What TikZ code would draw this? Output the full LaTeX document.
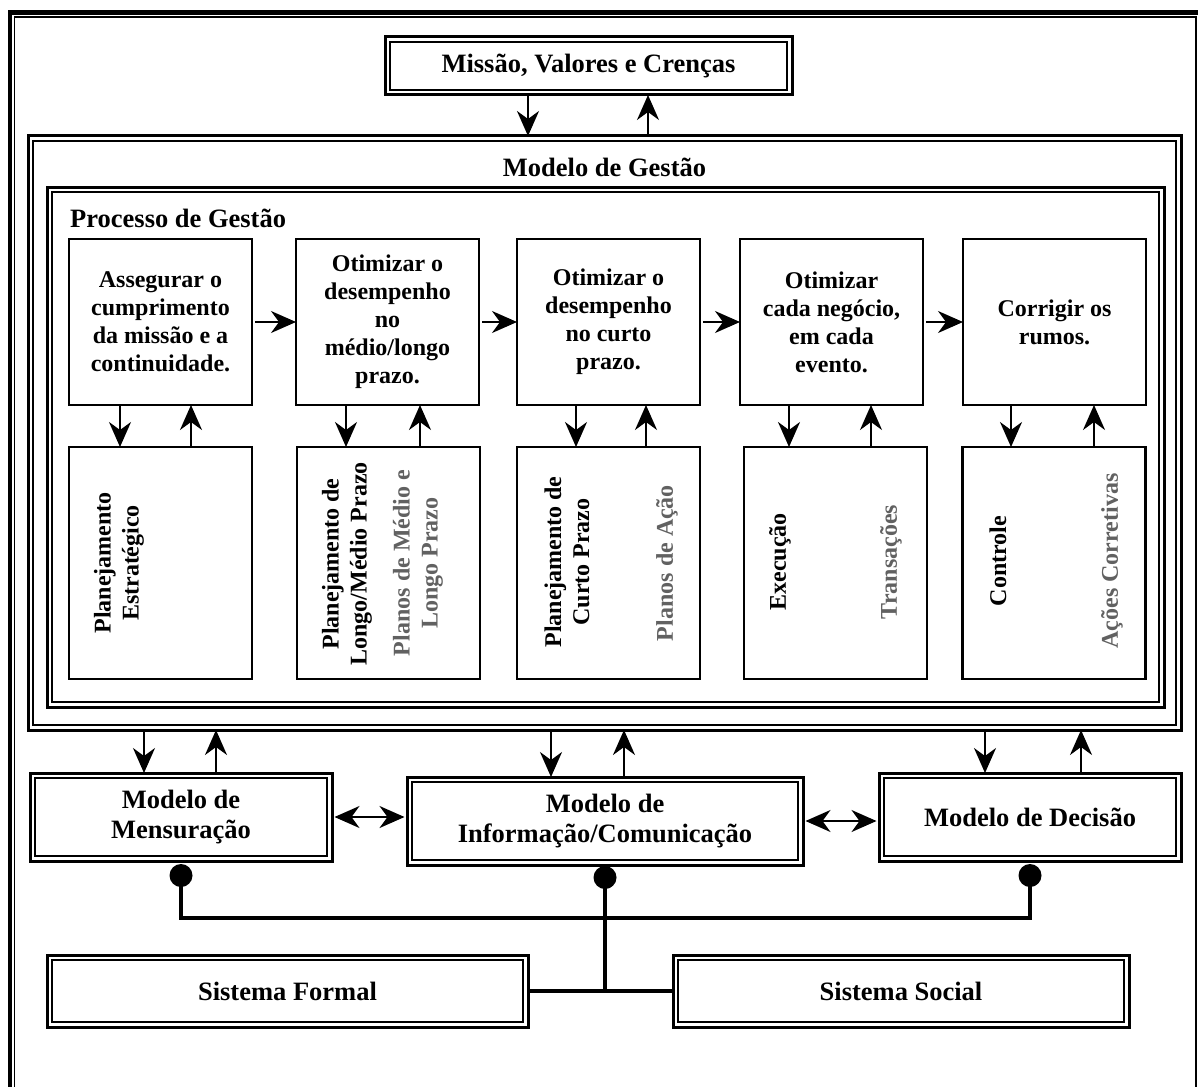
\documentclass[tikz,border=0pt]{standalone}
\usepackage{fontspec}
\setmainfont{Liberation Serif}
\usetikzlibrary{arrows.meta,positioning,calc}
\definecolor{planogray}{gray}{0.38}
\tikzset{
	box/.style={draw, line width=2.6pt, inner sep=0pt, outer sep=0pt, minimum width=183pt, align=center, font=\fontsize{24}{28}\selectfont\bfseries},
	dbox/.style={draw, line width=3pt, inner sep=0pt, outer sep=0pt, align=center, font=\fontsize{26.5}{30.5}\selectfont\bfseries},
	innerline/.style={line width=1.8pt},
	titletext/.style={inner sep=0pt, font=\fontsize{26.5}{30.5}\selectfont\bfseries},
	vtext/.style={rotate=90, inner sep=0pt, align=center, font=\fontsize{24}{28}\selectfont\bfseries},
	arr/.style={-{Stealth[length=25pt,width=22pt,inset=8pt]}, line width=1.8pt},
	darr/.style={{Stealth[length=25pt,width=22pt,inset=8pt]}-{Stealth[length=25pt,width=22pt,inset=8pt]}, line width=1.8pt},
	bus/.style={line width=4pt},
	ball/.style={circle, fill=black, inner sep=0pt, outer sep=0pt, minimum size=23pt}
}

\begin{document}
\begin{tikzpicture}[x=1pt, y=-1pt]
		%%%%% START %%%%%
		\useasboundingbox (0, 0) rectangle (1198, 1086);
		
		\draw[line width=4.5pt] (10, 12.5) rectangle (1210, 1100);
		\draw[line width=1.6pt] (14.3, 16.8) rectangle (1195.8, 1100);
		
		\node[dbox, minimum width=407pt, minimum height=58pt] (mvc) at (588.5, 66) {Missão, Valores e Crenças};
		
		\node[dbox, minimum width=1153pt, minimum height=594pt] (mg) at (604.5, 433) {};
		\node[titletext] (mgt) at (604.5, 167) {Modelo de Gestão};
		
		\node[dbox, minimum width=1117pt, minimum height=520pt] (pg) at (605.5, 447) {};
		\node[titletext, anchor=west] (pgt) at (70, 218) {Processo de Gestão};
		
		\node[box, minimum height=166pt] (a1) at (160.5, 322) {Assegurar o\\cumprimento\\da missão e a\\continuidade.};
		\node[box, minimum height=166pt] (a2) at (387.5, 322) {Otimizar o\\desempenho\\no\\médio/longo\\prazo.};
		\node[box, minimum height=166pt] (a3) at (608.5, 322) {Otimizar o\\desempenho\\no curto\\prazo.};
		\node[box, minimum height=166pt] (a4) at (831.5, 322) {Otimizar\\cada negócio,\\em cada\\evento.};
		\node[box, minimum height=166pt] (a5) at (1054.5, 322) {Corrigir os\\rumos.};
		
		\node[box, minimum height=232pt] (b1) at (160.5, 563) {};
		\node[box, minimum height=232pt] (b2) at (388.5, 563) {};
		\node[box, minimum height=232pt] (b3) at (608.5, 563) {};
		\node[box, minimum height=232pt] (b4) at (835.5, 563) {};
		\node[box, minimum height=232pt] (b5) at (1054, 563) {};
		
		\node[vtext] (t1) at (119, 563) {Planejamento\\Estratégico};
		\node[vtext] (t2) at (347, 564) {Planejamento de\\Longo/Médio Prazo};
		\node[vtext, text=planogray] (p2) at (418, 563) {Planos de Médio e\\Longo Prazo};
		\node[vtext] (t3) at (567, 562) {Planejamento de\\Curto Prazo};
		\node[vtext, text=planogray] (p3) at (667, 563) {Planos de Ação};
		\node[vtext] (t4) at (780, 562) {Execução};
		\node[vtext, text=planogray] (p4) at (891, 562) {Transações};
		\node[vtext] (t5) at (998, 561) {Controle};
		\node[vtext, text=planogray] (p5) at (1112, 561) {Ações Corretivas};
		
		\node[dbox, minimum width=302pt, minimum height=88pt] (mm) at (181, 817) {Modelo de\\Mensuração};
		\node[dbox, minimum width=396pt, minimum height=88pt] (mi) at (605, 821) {Modelo de\\Informação/Comunicação};
		\node[dbox, minimum width=302pt, minimum height=88pt] (md) at (1030, 817) {Modelo de Decisão};
		
		\node[dbox, minimum width=481pt, minimum height=72pt] (sf) at (287.5, 991) {Sistema Formal};
		\node[dbox, minimum width=456pt, minimum height=72pt] (ss) at (901, 991) {Sistema Social};
		
		\foreach \n in {mvc,mg,pg,mm,mi,md,sf,ss}
			\draw[innerline] ([shift={(4.8,4.8)}]\n.north west) rectangle ([shift={(-4.8,-4.8)}]\n.south east);
		
		\draw[arr] (528,0 |- mvc.south) -- (528,0 |- mg.north);
		\draw[arr] (648,0 |- mg.north) -- (648,0 |- mvc.south);
		
		\foreach \a/\b in {a1/a2,a2/a3,a3/a4,a4/a5}
			\draw[arr, shorten <=3pt] (\a.east) -- (\b.west);
		
		\foreach \a/\b/\d/\u in {a1/b1/120/191, a2/b2/346/420, a3/b3/576/646, a4/b4/789/871, a5/b5/1011/1094} {
			\draw[arr] (\d,0 |- \a.south) -- (\d,0 |- \b.north);
			\draw[arr] (\u,0 |- \b.north) -- (\u,0 |- \a.south);
		}
		
		\foreach \m/\d/\u in {mm/144/216, mi/551/624, md/985/1081} {
			\draw[arr] (\d,0 |- mg.south) -- (\d,0 |- \m.north);
			\draw[arr] (\u,0 |- \m.north) -- (\u,0 |- mg.south);
		}
		
		\draw[darr, shorten <=2.5pt, shorten >=2.5pt] (mm.east) -- (mm.east -| mi.west);
		\draw[darr, shorten <=2.5pt, shorten >=2.5pt] (mi.east) -- (mi.east -| md.west);
		
		\node[ball, below=3pt of mm] (bmm) {};
		\node[ball, below=1pt of mi] (bmi) {};
		\node[ball, below=3pt of md] (bmd) {};
		
		\draw[bus] (bmm.center) -- ++(0, 42) -| (bmd.center);
		\draw[bus] (bmi.center) -- (bmi.center |- sf.east);
		\draw[bus] (sf.east) -- (ss.west);
		
		%%%%% END %%%%%
\end{tikzpicture}
\end{document}
